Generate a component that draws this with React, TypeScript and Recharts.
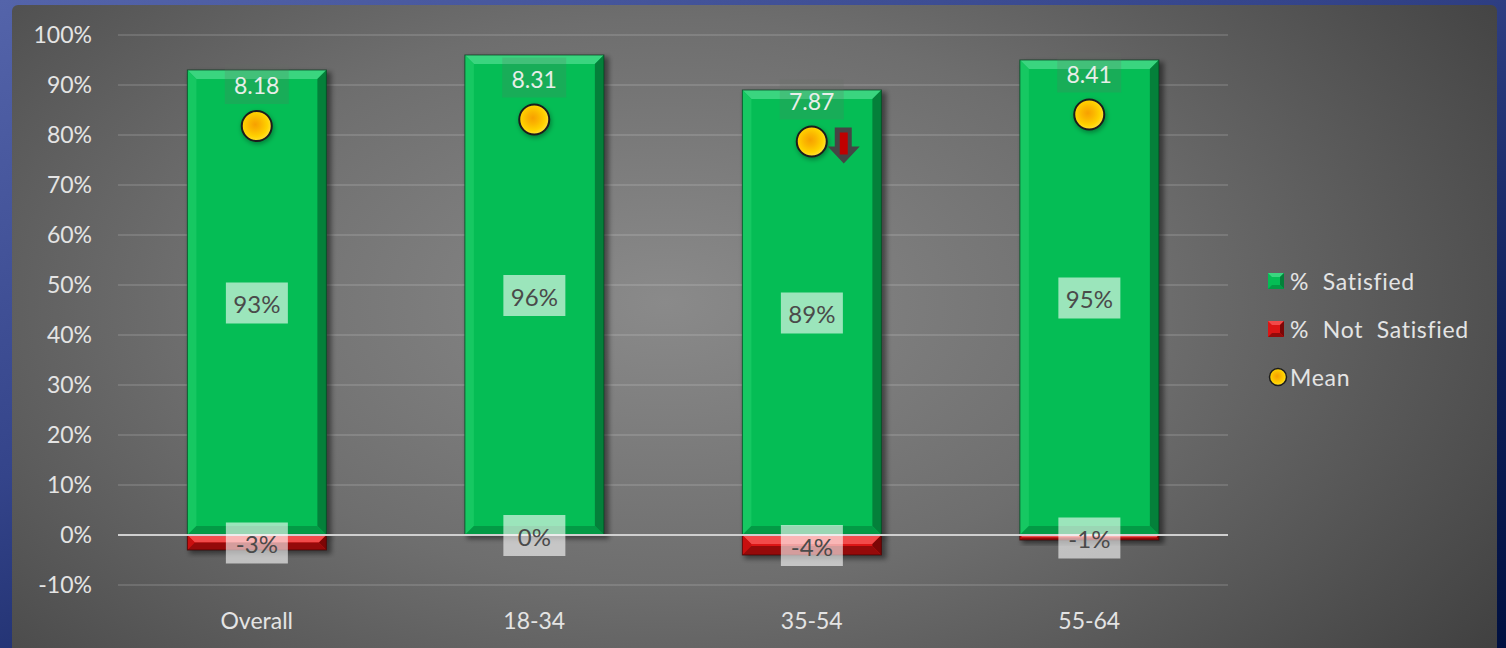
import React from "react";
import {
  ComposedChart, Bar, Scatter, XAxis, YAxis, CartesianGrid, ReferenceLine, Legend, LabelList,
} from "recharts";

const categories = ["Overall", "18-34", "35-54", "55-64"];
const satisfied = [93, 96, 89, 95];
const notSatisfied = [-3, 0, -4, -1];
const means = [8.18, 8.31, 7.87, 8.41];
const trends = ["", "", "down", ""];
const yTicks = [-10, 0, 10, 20, 30, 40, 50, 60, 70, 80, 90, 100];

const data = categories.map((name, i) => ({
  name,
  sat: satisfied[i],
  notSat: notSatisfied[i],
  mean: means[i],
  meanPct: means[i] * 10,
  trend: trends[i],
}));

const FONT = "Lato, 'Noto Sans', sans-serif";
const TICK = { fill: "#e4e4e4", fontSize: 23, fontFamily: FONT };

const GREEN = { face: "#05bd55", top: "#3ad57f", left: "#16c862", right: "#04803a", bottom: "#039a45", edge: "#06391c" };
const RED = { face: "#dc1515", top: "#f24a4a", left: "#c80f0f", right: "#7c0606", bottom: "#950a0a", edge: "#3a0404" };

function bevelBar(c: typeof GREEN) {
  return (props: any) => {
    let { x, y, width, height } = props;
    if (height < 0) { y += height; height = -height; }
    if (!width || !height) return <g />;
    const b = Math.min(9, height / 2, width / 2);
    const r = x + width;
    const btm = y + height;
    return (
      <g>
        <rect x={x + 2} y={y + 2} width={width + 3} height={height + 2} fill="rgba(0,0,0,0.45)" filter="url(#barShadow)" />
        <rect x={x} y={y} width={width} height={height} fill={c.face} />
        <polygon points={`${x},${y} ${r},${y} ${r - b},${y + b} ${x + b},${y + b}`} fill={c.top} />
        <polygon points={`${x},${y} ${x + b},${y + b} ${x + b},${btm - b} ${x},${btm}`} fill={c.left} />
        <polygon points={`${r},${y} ${r},${btm} ${r - b},${btm - b} ${r - b},${y + b}`} fill={c.right} />
        <polygon points={`${x},${btm} ${r},${btm} ${r - b},${btm - b} ${x + b},${btm - b}`} fill={c.bottom} />
        <rect x={x} y={y} width={width} height={height} fill="none" stroke={c.edge} strokeOpacity={0.7} strokeWidth={1} />
      </g>
    );
  };
}

function BoxLabel(props: any) {
  const { x, y, width, height, value } = props;
  const cx = x + width / 2;
  const cy = y + height / 2;
  return (
    <g>
      <rect x={cx - 31} y={cy - 20} width={62} height={41} fill="rgba(255,255,255,0.6)" />
      <text x={cx} y={cy + 1} textAnchor="middle" dominantBaseline="central" fill="#4a4a4a" fontSize={24} fontFamily={FONT}>
        {value}%
      </text>
    </g>
  );
}

function MeanDot(props: any) {
  const { cx, cy, payload } = props;
  if (cx == null || cy == null) return <g />;
  const ax = cx + 2;
  return (
    <g>
      <rect x={cx - 32} y={cy - 62} width={64} height={40} fill="rgba(100,110,100,0.2)" />
      <text x={cx} y={cy - 41} textAnchor="middle" dominantBaseline="central" fill="#e8eee9" fontSize={23} fontFamily={FONT}>
        {payload.mean.toFixed(2)}
      </text>
      <circle cx={cx + 1} cy={cy + 2} r={16} fill="rgba(0,0,0,0.35)" filter="url(#barShadow)" />
      <circle cx={cx} cy={cy} r={15} fill="url(#meanGrad)" stroke="#1c1c1c" strokeWidth={2} />
      {payload.trend === "down" && (
        <g>
          <polygon
            points={`${ax + 21},${cy - 14} ${ax + 38},${cy - 14} ${ax + 38},${cy + 5} ${ax + 46},${cy + 5} ${ax + 30},${cy + 22} ${ax + 14},${cy + 5} ${ax + 21},${cy + 5}`}
            fill="#454545"
          />
          <rect x={ax + 26} y={cy - 9} width={8} height={22} fill="#c00000" />
        </g>
      )}
    </g>
  );
}

function LegendSwatch({ c }: { c: typeof GREEN }) {
  return (
    <svg width={16} height={16} style={{ marginRight: 6 }}>
      <rect x={0} y={0} width={16} height={16} fill={c.face} />
      <polygon points="0,0 16,0 12,4 4,4" fill={c.top} />
      <polygon points="16,0 16,16 12,12 12,4" fill={c.right} />
      <polygon points="0,16 16,16 12,12 4,12" fill={c.bottom} />
    </svg>
  );
}

function LegendContent() {
  const row: React.CSSProperties = {
    display: "flex", alignItems: "center", height: 48, color: "#e4e4e4", fontSize: 23,
    fontFamily: FONT, wordSpacing: 7, letterSpacing: 0.7, whiteSpace: "nowrap",
  };
  return (
    <div>
      <div style={row}><LegendSwatch c={GREEN} /><span>% Satisfied</span></div>
      <div style={row}><LegendSwatch c={RED} /><span>% Not Satisfied</span></div>
      <div style={row}>
        <svg width={20} height={20} style={{ marginRight: 2 }}>
          <defs>
            <radialGradient id="legMean" cx="45%" cy="45%" r="58%">
              <stop offset="0%" stopColor="#f7a000" />
              <stop offset="35%" stopColor="#fbb600" />
              <stop offset="70%" stopColor="#ffd200" />
              <stop offset="100%" stopColor="#ffe440" />
            </radialGradient>
          </defs>
          <circle cx={10} cy={10} r={8.5} fill="url(#legMean)" stroke="#1c1c1c" strokeWidth={1.5} />
        </svg>
        <span>Mean</span>
      </div>
    </div>
  );
}

export default function App() {
  return (
    <div
      style={{
        position: "fixed", left: 0, top: 0, width: 1506, height: 648, overflow: "hidden",
        background: "linear-gradient(160deg, #5464aa 0%, #34448a 40%, #0e1e58 75%, #001040 100%)",
      }}
    >
      <div
        style={{
          position: "absolute", left: 12, top: 5, width: 1485, height: 660, borderRadius: 6,
          background: "radial-gradient(ellipse 72% 95% at 44% 45%, #8a8a8a 0%, #6e6e6e 45%, #3c3c3c 100%)",
        }}
      >
        <ComposedChart
          width={1485}
          height={643}
          data={data}
          barCategoryGap="25%"
          margin={{ top: 30, right: 269, bottom: 23, left: 26 }}
        >
          <defs>
            <filter id="barShadow" x="-20%" y="-20%" width="140%" height="140%">
              <feGaussianBlur stdDeviation="2.5" />
            </filter>
            <radialGradient id="meanGrad" cx="45%" cy="45%" r="58%">
              <stop offset="0%" stopColor="#f7a000" />
              <stop offset="35%" stopColor="#fbb600" />
              <stop offset="70%" stopColor="#ffd200" />
              <stop offset="100%" stopColor="#ffe440" />
            </radialGradient>
          </defs>
          <CartesianGrid vertical={false} stroke="rgba(255,255,255,0.13)" strokeWidth={2} />
          <XAxis dataKey="name" tick={TICK} axisLine={false} tickLine={false} tickMargin={22} height={40} />
          <XAxis dataKey="name" xAxisId="neg" hide />
          <YAxis
            domain={[-10, 100]}
            ticks={yTicks}
            interval={0}
            tickFormatter={(v: number) => `${v}%`}
            tick={TICK}
            axisLine={false}
            tickLine={false}
            tickMargin={20}
            width={80}
          />
          <Legend layout="vertical" align="center" verticalAlign="middle" wrapperStyle={{ left: 1256, top: 252, width: 230 }} content={<LegendContent />} />
          <Bar dataKey="sat" name="% Satisfied" shape={bevelBar(GREEN)} isAnimationActive={false}>
            <LabelList dataKey="sat" content={<BoxLabel />} />
          </Bar>
          <Bar dataKey="notSat" xAxisId="neg" name="% Not Satisfied" shape={bevelBar(RED)} isAnimationActive={false}>
            <LabelList dataKey="notSat" content={<BoxLabel />} />
          </Bar>
          <ReferenceLine y={0} stroke="#d0d0d0" strokeWidth={2} />
          <Scatter dataKey="meanPct" name="Mean" shape={<MeanDot />} isAnimationActive={false} />
        </ComposedChart>
      </div>
    </div>
  );
}
